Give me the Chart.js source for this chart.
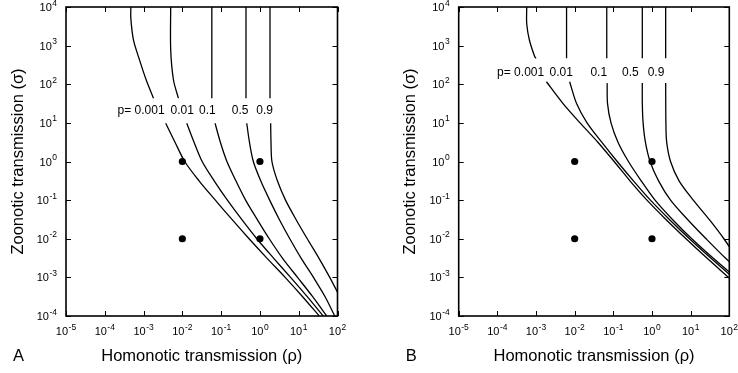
<!DOCTYPE html>
<html>
<head>
<meta charset="utf-8">
<script src="https://cdn.jsdelivr.net/npm/chart.js@4.4.1/dist/chart.umd.min.js"></script>
<style>
  html, body { margin: 0; padding: 0; background: #fff; }
  #wrap { position: relative; width: 738px; height: 373px; overflow: hidden; }
  .panel { position: absolute; top: 0; width: 369px; height: 373px; }
</style>
</head>
<body>
<div id="wrap">
  <div class="panel" style="left:0"><canvas id="chartA" width="369" height="373"></canvas></div>
  <div class="panel" style="left:369px"><canvas id="chartB" width="369" height="373"></canvas></div>
</div>
<script>
// axis ticks (decades only) and their exponent labels
const xTicks = [1e-5, 1e-4, 1e-3, 1e-2, 1e-1, 1, 10, 100];
const xTickExps = ['-5', '-4', '-3', '-2', '-1', '0', '1', '2'];
const yTicks = [1e-4, 1e-3, 1e-2, 1e-1, 1, 10, 100, 1e3, 1e4];
const yTickExps = ['-4', '-3', '-2', '-1', '0', '1', '2', '3', '4'];

// the four marked parameter sets (rho, sigma)
const dotRho = [1e-2, 1, 1e-2, 1];
const dotSigma = [1, 1, 1e-2, 1e-2];

// contour labels
const labelTexts = ['p= 0.001', '0.01', '0.1', '0.5', '0.9'];
const labelRhoA = [8.6e-4, 9.9e-3, 4.4e-2, 0.31, 1.32];
const labelSigmaA = 21.4;
const labelRhoB = [4.0e-4, 4.5e-3, 4.2e-2, 0.275, 1.27];
const labelSigmaB = 209;

// contour curves, [rho, sigma]; null = break where the label sits
// panel A
const pA001 = [[4.7e-4, 1e4], [4.7e-4, 5e3], [5.5e-4, 1.38e3], [7.85e-4, 427], [1.17e-3, 129], [1.8e-3, 43.7], null,
  [3.72e-3, 9.77], [6.46e-3, 3.16], [1.15e-2, 1], [2.69e-2, 0.316], [7.08e-2, 0.1], [0.19, 3.16e-2], [0.525, 1e-2],
  [1.51, 3.16e-3], [4.47, 1e-3], [12.6, 3.16e-4], [33.9, 1e-4]];
const pA01 = [[5.0e-3, 1e4], [5.0e-3, 800], [5.9e-3, 129], [7.9e-3, 43.7], null,
  [1.3e-2, 9.77], [2.0e-2, 3.16], [3.24e-2, 1], [6.61e-2, 0.316], [0.145, 0.1], [0.339, 3.16e-2], [0.832, 1e-2],
  [2.24, 3.16e-3], [6.17, 1e-3], [16.6, 3.16e-4], [42.7, 1e-4]];
const pA1 = [[5.75e-2, 1e4], [5.75e-2, 43.7], null,
  [6.97e-2, 9.77], [9.55e-2, 3.16], [0.141, 1], [0.24, 0.316], [0.427, 0.1], [0.851, 3.16e-2], [1.74, 1e-2],
  [3.8, 3.16e-3], [9.33, 1e-3], [22.9, 3.16e-4], [52.5, 1e-4]];
const pA5 = [[0.437, 1e4], [0.437, 43.7], null,
  [0.457, 9.77], [0.537, 3.16], [0.676, 1], [1.047, 0.316], [1.78, 0.1], [3.16, 3.16e-2], [5.89, 1e-2],
  [11.5, 3.16e-3], [24.0, 1e-3], [47.9, 3.16e-4], [85.1, 1e-4]];
const pA9 = [[1.82, 1e4], [1.82, 43.7], null,
  [1.89, 9.77], [1.93, 3.16], [2.04, 1], [2.82, 0.316], [4.57, 0.1], [8.51, 3.16e-2], [16.6, 1e-2],
  [33.1, 3.16e-3], [63.1, 1e-3], [115, 3.16e-4]];

// panel B
const pB001 = [[5.75e-4, 1e4], [5.75e-4, 3.7e3], [6.76e-4, 1.38e3], [9.3e-4, 513], [1.0e-3, 468], null,
  [1.86e-3, 116], [5.01e-3, 31.6], [1.38e-2, 10], [3.98e-2, 3.16], [0.105, 1], [0.269, 0.316], [0.741, 0.1],
  [2.29, 3.16e-2], [7.59, 1e-2], [26.3, 3.16e-3], [95.5, 1e-3], [123, 7.94e-4]];
const pB01 = [[6.17e-3, 1e4], [6.17e-3, 468], null,
  [7.41e-3, 116], [1.12e-2, 31.6], [2.09e-2, 10], [5.01e-2, 3.16], [0.126, 1], [0.331, 0.316], [0.912, 0.1],
  [2.82, 3.16e-2], [9.33, 1e-2], [33.1, 3.16e-3], [123, 1e-3]];
const pB1 = [[6.76e-2, 1e4], [6.76e-2, 468], null,
  [6.92e-2, 107], [7.08e-2, 31.6], [8.71e-2, 10], [0.132, 3.16], [0.246, 1], [0.525, 0.316], [1.2, 0.1],
  [3.39, 3.16e-2], [10.7, 1e-2], [38.0, 3.16e-3], [145, 1e-3]];
const pB5 = [[0.562, 1e4], [0.562, 468], null,
  [0.562, 107], [0.562, 31.6], [0.589, 10], [0.676, 3.16], [0.891, 1], [1.48, 0.316], [3.02, 0.1],
  [8.32, 3.16e-2], [25.1, 1e-2], [79.4, 3.16e-3], [282, 1e-3]];
const pB9 = [[2.26, 1e4], [2.26, 468], null,
  [2.26, 107], [2.29, 10], [2.4, 3.16], [3.02, 1], [5.01, 0.316], [11.7, 0.1], [30.2, 3.16e-2],
  [72.4, 1e-2], [158, 3.16e-3]];

const FONT = '"Liberation Sans", Arial, Helvetica, sans-serif';

function toPoints(arr) {
  return arr.map(p => p ? { x: p[0], y: p[1] } : { x: 1, y: null });
}

function curve(arr) {
  return {
    data: toPoints(arr),
    showLine: true,
    borderColor: '#000',
    borderWidth: 1.3,
    pointRadius: 0,
    tension: 0.3,
    spanGaps: false
  };
}

// draws "10" with a raised exponent; align = 'center' or 'right'
function drawPow(ctx, exp, x, baseline, align) {
  ctx.font = '11px ' + FONT;
  const wBase = ctx.measureText('10').width;
  ctx.font = '8.5px ' + FONT;
  const wExp = ctx.measureText(exp).width;
  const total = wBase + 0.5 + wExp;
  const x0 = align === 'right' ? x - total : x - total / 2;
  ctx.textAlign = 'left';
  ctx.textBaseline = 'alphabetic';
  ctx.font = '11px ' + FONT;
  ctx.fillText('10', x0, baseline);
  ctx.font = '8.5px ' + FONT;
  ctx.fillText(exp, x0 + wBase + 0.5, baseline - 5.5);
}

function decor(letter, labelRho, labelSigma) {
  return {
    id: 'decor' + letter,
    afterDatasetsDraw(chart) {
      const { ctx, chartArea: a, scales } = chart;
      const xs = scales.x, ys = scales.y;
      ctx.save();
      ctx.fillStyle = '#000';
      ctx.strokeStyle = '#000';

      // inward ticks on all four sides
      ctx.lineWidth = 1;
      ctx.beginPath();
      xTicks.forEach(v => {
        const px = Math.round(xs.getPixelForValue(v)) + 0.5;
        ctx.moveTo(px, a.bottom); ctx.lineTo(px, a.bottom - 5);
        ctx.moveTo(px, a.top); ctx.lineTo(px, a.top + 5);
      });
      yTicks.forEach(v => {
        const py = Math.round(ys.getPixelForValue(v)) + 0.5;
        ctx.moveTo(a.left, py); ctx.lineTo(a.left + 5, py);
        ctx.moveTo(a.right, py); ctx.lineTo(a.right - 5, py);
      });
      ctx.stroke();

      ctx.lineWidth = 1.6;
      ctx.strokeRect(a.left, a.top, a.right - a.left, a.bottom - a.top);

      // tick labels
      xTicks.forEach((v, i) => drawPow(ctx, xTickExps[i], xs.getPixelForValue(v), a.bottom + 19, 'center'));
      yTicks.forEach((v, i) => drawPow(ctx, yTickExps[i], a.left - 9, ys.getPixelForValue(v) + 4, 'right'));

      // contour labels
      ctx.font = '12px ' + FONT;
      ctx.textAlign = 'center';
      ctx.textBaseline = 'middle';
      labelTexts.forEach((t, i) => {
        ctx.fillText(t, xs.getPixelForValue(labelRho[i]), ys.getPixelForValue(labelSigma) + 1);
      });

      // axis titles and panel letter
      ctx.font = '16.5px ' + FONT;
      ctx.textBaseline = 'alphabetic';
      ctx.textAlign = 'center';
      ctx.fillText('Homonotic transmission (\u03c1)', (a.left + a.right) / 2, 361);
      ctx.textAlign = 'left';
      ctx.fillText(letter, a.left - 53, 361);

      ctx.save();
      ctx.translate(a.left - 43.5, (a.top + a.bottom) / 2);
      ctx.rotate(-Math.PI / 2);
      ctx.textAlign = 'center';
      ctx.fillText('Zoonotic transmission (\u03c3)', 0, 0);
      ctx.restore();

      ctx.restore();
    }
  };
}

function makePanel(id, letter, curves, labelRho, labelSigma, padding) {
  const dots = dotRho.map((r, i) => ({ x: r, y: dotSigma[i] }));
  return new Chart(document.getElementById(id).getContext('2d'), {
    type: 'scatter',
    data: {
      datasets: [
        ...curves.map(curve),
        {
          data: dots,
          showLine: false,
          pointRadius: 3.6,
          pointBackgroundColor: '#000',
          pointBorderColor: '#000',
          pointBorderWidth: 0
        }
      ]
    },
    options: {
      responsive: false,
      animation: false,
      events: [],
      layout: { padding },
      plugins: { legend: { display: false }, tooltip: { enabled: false } },
      scales: {
        x: { type: 'logarithmic', min: 1e-5, max: 100, display: false },
        y: { type: 'logarithmic', min: 1e-4, max: 1e4, display: false }
      }
    },
    plugins: [decor(letter, labelRho, labelSigma)]
  });
}

const chartA = makePanel('chartA', 'A', [pA001, pA01, pA1, pA5, pA9], labelRhoA, labelSigmaA,
  { left: 66, right: 31.5, top: 7, bottom: 57 });
const chartB = makePanel('chartB', 'B', [pB001, pB01, pB1, pB5, pB9], labelRhoB, labelSigmaB,
  { left: 89.7, right: 8.7, top: 7, bottom: 57 });
</script>
</body>
</html>
